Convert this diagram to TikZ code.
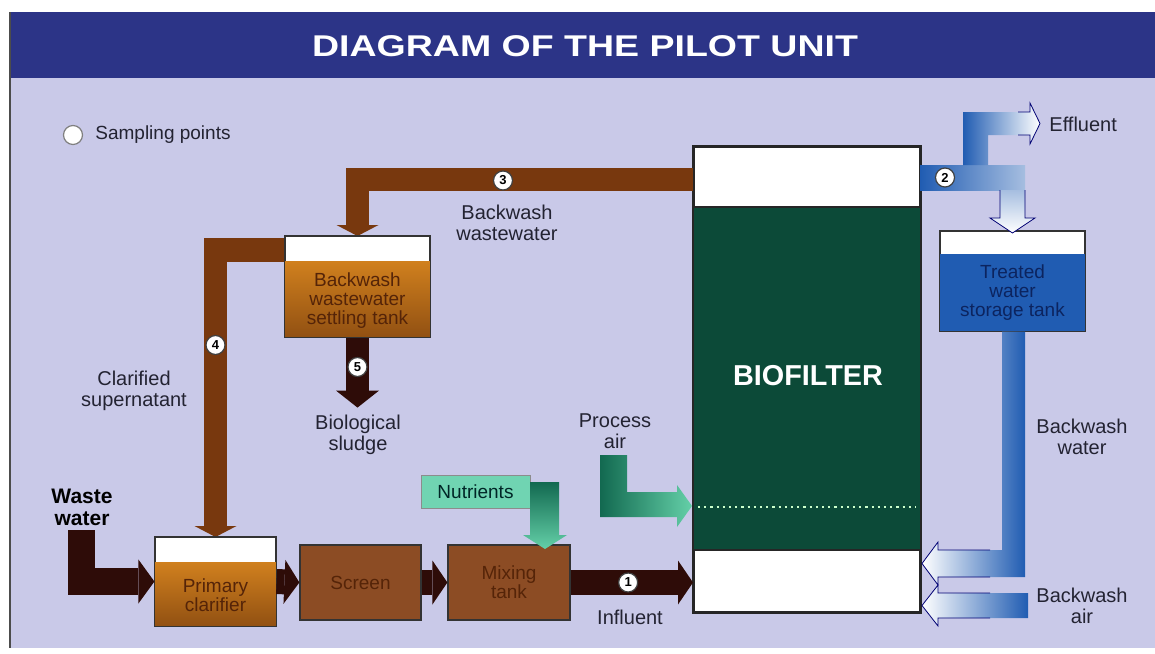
\documentclass[tikz,border=0pt]{standalone}
\usepackage{fontspec}
\setmainfont{Liberation Sans}
\usetikzlibrary{calc, arrows.meta}

\definecolor{panel}{RGB}{201,201,232}
\definecolor{titlebar}{RGB}{44,52,135}
\definecolor{pipebrown}{RGB}{120,56,14}
\definecolor{darkflow}{RGB}{46,12,8}
\definecolor{tankorange}{RGB}{208,128,30}
\definecolor{tankdeep}{RGB}{145,80,18}
\definecolor{boxbrown}{RGB}{140,76,36}
\definecolor{tanktext}{RGB}{85,36,8}
\definecolor{biogreen}{RGB}{12,74,56}
\definecolor{airdark}{RGB}{18,105,80}
\definecolor{airlight}{RGB}{100,208,168}
\definecolor{nutrfill}{RGB}{112,212,178}
\definecolor{waterblue}{RGB}{32,92,178}
\definecolor{bluetext}{RGB}{12,36,95}
\definecolor{labeltext}{RGB}{35,35,50}

\begin{document}
\begin{tikzpicture}[x=0.5pt, y=-0.5pt,
    lbl/.style={font=\fontsize{10}{10.5}\selectfont, text=labeltext, align=center, inner sep=0pt},
    tanklbl/.style={font=\fontsize{9.5}{9.5}\selectfont, text=tanktext, align=center},
    sample/.style={circle, draw=black!75, fill=white, line width=0.6pt, minimum size=9.5pt, inner sep=0pt, font=\bfseries\fontsize{6.5}{6.5}\selectfont},
    tank/.style={draw=black!80, line width=0.6pt, inner sep=0pt},
    flow/.style={draw=darkflow, line width=12.5pt, line join=miter, -{Triangle[width=22pt, length=7.5pt, line width=0pt]}},
    pipe/.style={draw=pipebrown, line width=11.75pt, line join=miter, -{Triangle[width=21pt, length=5.5pt, line width=0pt]}},
    hollow/.style={draw=black!55!blue, line width=0.4pt}]

    \useasboundingbox (0,0) rectangle (1155,653);
    \fill[white] (0,0) rectangle (1155,653);
    \fill[panel] (10,78) rectangle (1155,648);
    \fill[titlebar] (10,12) rectangle (1155,78);
    \draw[black!70, line width=1pt] (10,12) -- (10,648);
    \node[font=\bfseries\fontsize{15}{15}\selectfont, text=white] (title) at (585,46) {\scalebox{1.25}[1]{DIAGRAM OF THE PILOT UNIT}};

    % legend
    \node[sample, draw=black!50] (legend) at (73,135) {};
    \node[lbl, anchor=west, font=\fontsize{9.5}{10}\selectfont] (legend-txt) at (95,135) {Sampling points};

    % biofilter column
    \node[draw=black!85, fill=white, line width=1pt, minimum width=113pt, minimum height=232.5pt, inner sep=0pt] (bio) at (807,379.5) {};
    \fill[biogreen] ($(bio.north west)+(0,61)$) rectangle ($(bio.south east)+(0,-63)$);
    \draw[black!85, line width=1pt] (bio.north west) rectangle (bio.south east);
    \draw[black!85, line width=0.6pt] ($(bio.north west)+(0,61)$) -- ($(bio.north east)+(0,61)$);
    \draw[black!85, line width=0.6pt] ($(bio.south west)+(0,-63)$) -- ($(bio.south east)+(0,-63)$);
    \draw[white!80!green, dotted, line width=1.1pt] ($(bio.south west)+(5,-106)$) -- ($(bio.south east)+(-5,-106)$);
    \node[font=\bfseries\fontsize{14.4}{14.4}\selectfont, text=white] (bio-txt) at (808,376) {BIOFILTER};

    % pipes from the biofilter top and the settling tank
    \coordinate (p3) at ($(bio.north west)+(0,33.5)$);
    \draw[pipe] (p3) -| (357.5,236) coordinate (settle-in);
    \coordinate (p4) at (285,250);
    \draw[pipe] (p4) -| (215.5,537) coordinate (clar-in);

    % tanks
    \node[tank, fill=white, minimum width=72.5pt, minimum height=50.5pt] (settle) at (357.5,286.5) {};
    \shade[top color=tankorange, bottom color=tankdeep] ($(settle.north west)+(0,26)$) rectangle (settle.south east);
    \draw[black!80, line width=0.6pt] (settle.north west) rectangle (settle.south east);
    \node[tanklbl] (settle-txt) at (357.5,301) {Backwash\\wastewater\\settling tank};

    \node[tank, fill=white, minimum width=60.5pt, minimum height=44.5pt] (clar) at (215.5,581.5) {};
    \shade[top color=tankorange, bottom color=tankdeep] ($(clar.north west)+(0,26)$) rectangle (clar.south east);
    \draw[black!80, line width=0.6pt] (clar.north west) rectangle (clar.south east);
    \node[tanklbl] (clar-txt) at (215.5,595) {Primary\\clarifier};

    \node[tank, fill=boxbrown, minimum width=60.5pt, minimum height=37.5pt, tanklbl] (screen) at (360.5,582.5) {Screen};
    \node[tank, fill=boxbrown, minimum width=61pt, minimum height=37.5pt, tanklbl] (mix) at (509,582.5) {Mixing\\tank};

    \node[tank, fill=white, minimum width=72.5pt, minimum height=50pt] (store) at (1012.5,281) {};
    \fill[waterblue] ($(store.north west)+(0,24)$) rectangle (store.south east);
    \draw[black!80, line width=0.6pt] (store.north west) rectangle (store.south east);
    \node[tanklbl, text=bluetext] (store-txt) at (1012.5,293) {Treated\\water\\storage tank};

    \node[draw=black!45, fill=nutrfill, line width=0.5pt, minimum width=54.5pt, minimum height=16.5pt, inner sep=0pt,
          font=\fontsize{9.5}{9.5}\selectfont, text=black!70!teal] (nutr) at (475.5,491.5) {Nutrients};

    % sludge and main flow line
    \draw[flow, line width=11.5pt, -{Triangle[width=21.5pt, length=8.5pt, line width=0pt]}] (settle.south) -- ++(0,70) coordinate (sludge-out);
    \coordinate (ww-in) at (81.5,530);
    \draw[flow, line width=13.5pt, -{Triangle[width=22pt, length=8pt, line width=0pt]}] (ww-in) |- (clar.west);
    \draw[flow] (clar.east) -- (screen.west);
    \draw[flow] (screen.east) -- (mix.west);
    \draw[flow] (mix.east) -- (mix.east -| bio.west);

    % nutrients and process air
    \shade[top color=airdark, bottom color=airlight] (530,482) -- (559,482) -- (559,535) -- (567,535) -- (545,549) -- (523,535) -- (530,535) -- cycle;
    \shade[left color=airdark, right color=airlight] (600,455) -- (627,455) -- (627,492) -- (677,492) -- (677,485) -- (692,506) -- (677,527) -- (677,517) -- (600,517) -- cycle;

    % treated water out of the biofilter
    \shade[left color=waterblue, right color=waterblue!40!white] (920,165) -- (1025,165) -- (1025,190) -- (920,190) -- cycle;
    \shade[top color=waterblue!40!white, bottom color=white] (1000,190) -- (1025,190) -- (1025,218) -- (1035,218) -- (1012.5,233) -- (990,218) -- (1000,218) -- cycle;
    \draw[hollow] (1025,190) -- (1025,218) -- (1035,218) -- (1012.5,233) -- (990,218) -- (1000,218) -- (1000,190);
    \shade[left color=waterblue, right color=white] (963,165) -- (963,112) -- (1030,112) -- (1030,103) -- (1040,123.5) -- (1030,144) -- (1030,135) -- (988,135) -- (988,165) -- cycle;
    \draw[hollow] (1018,112) -- (1030,112) -- (1030,103) -- (1040,123.5) -- (1030,144) -- (1030,135) -- (1018,135);

    % backwash water and air
    \shade[left color=white, right color=waterblue] (store.south -| 1002,0) -- (store.south -| 1025,0) -- (1025,577) -- (938,577) -- (938,585) -- (922,563.5) -- (938,542) -- (938,550) -- (1002,550) -- cycle;
    \draw[hollow] (990,550) -- (938,550) -- (938,542) -- (922,563.5) -- (938,585) -- (938,577) -- (990,577);
    \shade[left color=white, right color=waterblue] (1028,593) -- (1028,618) -- (938,618) -- (938,626) -- (922,605.5) -- (938,585) -- (938,593) -- cycle;
    \draw[hollow] (990,593) -- (938,593) -- (938,585) -- (922,605.5) -- (938,626) -- (938,618) -- (990,618);

    % sampling points
    \node[sample] (s1) at ($(mix.east)!0.47!(mix.east -| bio.west)$) {1};
    \node[sample] (s2) at (945,177.5) {2};
    \node[sample] (s3) at (503,180.5) {3};
    \node[sample] (s4) at (215.5,345) {4};
    \node[sample] (s5) at (357.5,367) {5};

    % labels
    \node[lbl] (bww-txt) at (507,223) {Backwash\\wastewater};
    \node[lbl] (sup-txt) at (134,391) {Clarified\\supernatant};
    \node[lbl] (sludge-txt) at (358,435) {Biological\\sludge};
    \node[lbl, font=\bfseries\fontsize{10.5}{11}\selectfont, text=black] (ww-txt) at (82,507) {Waste\\water};
    \node[lbl] (air-txt) at (615,431) {Process\\air};
    \node[lbl] (infl-txt) at (630,617) {Influent};
    \node[lbl, anchor=west] (effl-txt) at (1049,124) {Effluent};
    \node[lbl] (bw-txt) at (1082,437) {Backwash\\water};
    \node[lbl] (ba-txt) at (1082,606) {Backwash\\air};
\end{tikzpicture}
\end{document}
